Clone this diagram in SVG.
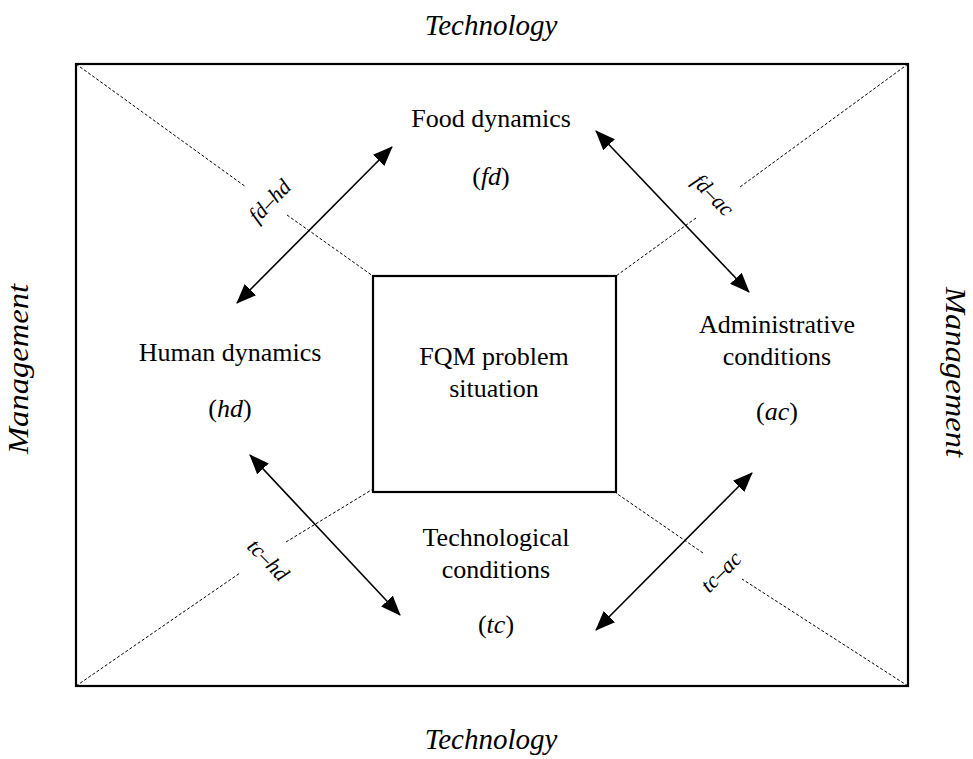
<svg xmlns="http://www.w3.org/2000/svg" width="973" height="759" viewBox="0 0 973 759">
  <style>
    text { font-family: "Liberation Serif", "Times New Roman", serif; fill: #000; }
    .lbl { font-size: 26px; text-anchor: middle; }
    .ital { font-style: italic; }
    .side { font-size: 29px; font-style: italic; text-anchor: middle; }
    .rel { font-size: 22px; font-style: italic; text-anchor: middle; }
    .frame { fill: none; stroke: #000; stroke-width: 2.2; }
    .diag { fill: none; stroke: #000; stroke-width: 1; stroke-dasharray: 3 2; }
    .link { fill: none; stroke: #000; stroke-width: 1.6; marker-start: url(#head); marker-end: url(#head); }
  </style>
  <defs>
    <marker id="head" viewBox="0 0 20 16" refX="19" refY="8" markerWidth="20" markerHeight="16" markerUnits="userSpaceOnUse" orient="auto-start-reverse">
      <path d="M0,0 L20,8 L0,16 Z" fill="#000"/>
    </marker>
  </defs>

  <rect width="973" height="759" fill="#fff"/>

  <!-- outer field and side captions -->
  <g id="field">
    <rect class="frame" x="76" y="64" width="832" height="622"/>
    <text class="side" x="491" y="35">Technology</text>
    <text class="side" x="491" y="749">Technology</text>
    <text class="side" transform="translate(28,369) rotate(-90)" textLength="170" lengthAdjust="spacingAndGlyphs">Management</text>
    <text class="side" transform="translate(946,372) rotate(90)" textLength="170" lengthAdjust="spacingAndGlyphs">Management</text>
  </g>

  <!-- dashed diagonals, broken where relation labels sit -->
  <g id="diagonals">
    <path class="diag" d="M76,64 L246,187 M287,215 L373,276"/>
    <path class="diag" d="M908,64 L740,187 M696,218 L616,276"/>
    <path class="diag" d="M76,686 L240,573 M286,542 L373,489"/>
    <path class="diag" d="M908,686 L742,579 M703,553 L616,493"/>
  </g>

  <g id="core">
    <rect class="frame" x="373" y="276" width="243" height="216" stroke-width="2.6"/>
    <text class="lbl" x="494" y="365">FQM problem</text>
    <text class="lbl" x="494" y="397">situation</text>
  </g>

  <g id="fd">
    <text class="lbl" x="491" y="127">Food dynamics</text>
    <text class="lbl" x="491" y="185">(<tspan class="ital">fd</tspan>)</text>
  </g>

  <g id="hd">
    <text class="lbl" x="230" y="361">Human dynamics</text>
    <text class="lbl" x="230" y="417">(<tspan class="ital">hd</tspan>)</text>
  </g>

  <g id="ac">
    <text class="lbl" x="777" y="333">Administrative</text>
    <text class="lbl" x="777" y="365">conditions</text>
    <text class="lbl" x="777" y="420">(<tspan class="ital">ac</tspan>)</text>
  </g>

  <g id="tc">
    <text class="lbl" x="496" y="546">Technological</text>
    <text class="lbl" x="496" y="578">conditions</text>
    <text class="lbl" x="496" y="633">(<tspan class="ital">tc</tspan>)</text>
  </g>

  <!-- two-way relations between the dimensions -->
  <g id="connectors">
    <line class="link" x1="237" y1="303" x2="392" y2="147"/>
    <line class="link" x1="596" y1="131" x2="749" y2="292"/>
    <line class="link" x1="250" y1="455" x2="400" y2="615"/>
    <line class="link" x1="752" y1="473" x2="596" y2="630"/>
    <text class="rel" transform="translate(275,206) rotate(-46)">fd–hd</text>
    <text class="rel" transform="translate(708,200) rotate(46)">fd–ac</text>
    <text class="rel" transform="translate(263,565) rotate(46)">tc–hd</text>
    <text class="rel" transform="translate(726,577) rotate(-45)">tc–ac</text>
  </g>
</svg>
